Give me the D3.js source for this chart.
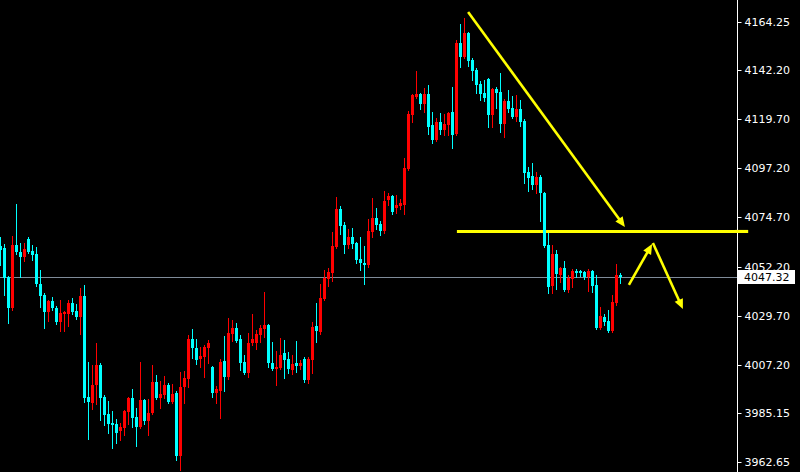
<!DOCTYPE html>
<html lang="en">
<head>
<meta charset="utf-8">
<title>Candles</title>
<script src="https://cdn.jsdelivr.net/npm/d3@7"></script>
<style>
  html, body { margin: 0; padding: 0; background: #000; }
  svg { display: block; }
  .axis text { font-family: "DejaVu Sans", sans-serif; font-size: 11px; fill: #fff; }
  .axis line { stroke: #fff; }
</style>
</head>
<body>
<script>
// bars: [open, high, low, close], oldest first
var ohlc = [
  [4061.6,4065.7,4052.9,4059.8],[4060.7,4062.5,4039.2,4047.0],[4047.4,4047.9,4026.3,4033.2],[4033.2,4066.2,4032.3,4062.1],
  [4062.1,4080.9,4058.0,4058.9],[4058.9,4063.0,4047.4,4056.6],[4056.6,4063.0,4054.7,4060.2],[4064.8,4065.7,4058.4,4058.9],
  [4059.3,4062.1,4055.2,4057.5],[4058.0,4061.2,4043.3,4044.2],[4044.2,4050.6,4033.7,4038.7],[4039.2,4040.1,4024.0,4031.4],
  [4031.4,4036.9,4027.3,4036.4],[4036.4,4038.2,4032.3,4033.2],[4033.2,4034.1,4025.9,4026.8],[4026.8,4036.9,4022.7,4030.9],
  [4030.5,4031.8,4022.7,4031.4],[4030.5,4036.9,4025.0,4035.5],[4035.5,4037.8,4030.5,4031.4],[4031.8,4035.0,4028.2,4029.1],
  [4029.1,4042.4,4021.3,4038.7],[4038.7,4043.8,3990.1,3992.0],[3992.4,4008.5,3973.2,3990.1],[3989.7,4007.1,3986.9,3997.9],
  [3997.9,4017.2,3989.2,4007.1],[4007.1,4008.0,3981.9,3992.0],[3992.4,3993.3,3979.6,3984.2],[3984.6,3990.6,3975.9,3980.1],
  [3980.5,3986.0,3969.1,3979.6],[3980.1,3982.3,3971.4,3975.9],[3976.9,3980.5,3972.7,3978.7],[3978.2,3986.5,3975.0,3986.0],
  [3985.6,3992.4,3980.1,3992.0],[3992.0,3996.1,3978.7,3982.8],[3983.3,3987.4,3970.0,3978.7],[3978.7,4008.5,3978.2,3991.1],
  [3991.1,3991.5,3980.1,3981.4],[3981.4,3991.5,3975.0,3985.1],[3985.1,4007.1,3984.6,3999.3],[3999.3,4002.5,3991.5,3992.0],
  [3992.0,3999.8,3987.4,3993.8],[3993.3,4002.1,3992.0,3997.9],[3997.9,3998.8,3989.7,3990.1],[3990.1,3998.4,3989.7,3993.8],
  [3994.3,3995.2,3963.6,3965.4],[3965.4,4003.9,3959.0,3997.0],[3997.0,4004.3,3989.7,4001.1],[4000.7,4020.8,3997.0,4019.0],
  [4019.0,4023.6,4010.3,4014.9],[4014.9,4019.0,4007.5,4009.4],[4009.8,4015.3,4006.2,4011.2],[4010.8,4016.3,4001.6,4015.3],
  [4014.9,4018.5,4008.0,4017.2],[4006.2,4006.6,3992.4,3994.3],[3994.3,3997.5,3989.7,3996.1],[3995.2,4009.8,3982.8,4008.5],
  [4008.9,4020.4,3995.2,4001.6],[4001.6,4028.6,4000.7,4021.8],[4021.3,4027.7,4018.1,4024.0],[4024.0,4026.3,4017.6,4018.1],
  [4019.0,4020.8,4004.8,4008.0],[4008.5,4011.7,4003.0,4003.4],[4003.4,4021.8,4001.6,4017.2],[4017.2,4030.5,4016.3,4019.0],
  [4017.2,4023.1,4014.4,4021.3],[4020.8,4025.4,4017.6,4024.0],[4023.6,4040.5,4019.9,4025.4],[4025.4,4025.9,4006.2,4008.0],
  [4008.0,4017.6,4004.8,4005.3],[4005.3,4013.5,3997.9,4006.2],[4005.7,4019.5,4005.3,4011.7],[4012.6,4018.5,4001.1,4009.4],
  [4009.8,4013.0,4003.4,4005.3],[4004.8,4011.7,4003.0,4007.5],[4008.0,4018.1,4003.9,4006.6],[4006.6,4009.4,4005.3,4008.0],
  [4009.8,4010.8,3999.3,4000.2],[4000.2,4010.8,3998.8,4009.8],[4009.4,4026.8,4003.4,4024.5],[4025.0,4035.5,4017.6,4022.7],
  [4022.2,4044.2,4021.3,4037.8],[4037.3,4050.6,4036.9,4047.0],[4046.5,4051.5,4043.3,4049.7],[4049.2,4068.0,4045.6,4061.6],
  [4061.2,4084.1,4060.7,4078.6],[4078.6,4079.9,4067.1,4070.8],[4071.2,4072.6,4058.4,4062.1],[4062.1,4069.4,4060.7,4065.7],
  [4065.7,4069.9,4060.7,4062.5],[4063.0,4063.4,4053.8,4055.2],[4055.7,4065.7,4050.6,4053.8],[4053.8,4061.6,4044.2,4052.9],
  [4052.9,4074.0,4052.0,4068.5],[4068.0,4083.6,4065.7,4074.4],[4074.4,4079.0,4069.4,4071.2],[4071.7,4073.1,4066.7,4068.5],
  [4068.5,4086.8,4067.6,4082.2],[4082.7,4085.9,4080.4,4084.5],[4084.5,4085.0,4076.3,4077.2],[4079.0,4085.0,4076.7,4080.4],
  [4079.9,4083.1,4078.6,4081.3],[4080.4,4101.9,4076.3,4097.4],[4096.9,4123.5,4096.4,4122.1],[4121.6,4131.3,4118.4,4130.8],
  [4129.9,4141.8,4129.4,4131.3],[4131.3,4131.7,4124.4,4126.7],[4126.7,4134.0,4123.0,4131.3],[4131.3,4135.4,4112.9,4116.1],
  [4117.1,4123.0,4108.8,4110.2],[4110.2,4120.3,4109.7,4118.4],[4118.4,4122.5,4112.9,4114.8],[4114.8,4122.1,4112.5,4117.5],
  [4117.1,4123.0,4112.5,4122.6],[4123.0,4134.5,4106.5,4112.5],[4113.0,4156.0,4112.5,4154.6],[4154.6,4163.3,4143.6,4148.2],
  [4148.2,4166.1,4147.8,4159.2],[4159.2,4159.7,4144.1,4146.4],[4146.8,4147.8,4137.7,4141.8],[4142.3,4143.2,4131.7,4135.4],
  [4135.8,4137.2,4128.5,4131.3],[4131.7,4137.7,4128.1,4129.4],[4138.1,4138.5,4116.1,4121.6],[4121.6,4134.0,4116.1,4133.6],
  [4133.6,4134.5,4124.8,4131.7],[4132.2,4140.9,4113.9,4117.5],[4117.5,4129.0,4111.6,4128.1],[4128.1,4133.1,4123.0,4124.4],
  [4124.8,4130.3,4120.3,4120.7],[4120.7,4130.8,4118.9,4124.4],[4124.4,4128.5,4116.6,4118.4],[4118.9,4119.8,4090.5,4095.1],
  [4095.5,4097.8,4086.8,4092.8],[4093.7,4099.6,4087.7,4089.6],[4089.6,4095.5,4085.9,4093.2],[4093.2,4094.2,4073.1,4085.9],
  [4085.9,4086.3,4061.2,4061.6],[4062.1,4067.6,4040.1,4042.8],[4043.3,4062.1,4040.1,4058.0],[4058.0,4059.8,4041.9,4048.8],
  [4048.3,4052.0,4045.1,4051.5],[4051.5,4054.7,4041.0,4041.5],[4041.5,4048.3,4040.5,4047.0],[4046.5,4051.1,4042.8,4050.2],
  [4050.2,4051.1,4047.4,4049.2],[4050.2,4050.6,4047.9,4049.2],[4049.7,4050.2,4046.5,4047.4],[4047.4,4051.1,4041.0,4050.2],
  [4050.2,4050.6,4040.5,4043.3],[4043.8,4048.3,4023.6,4024.0],[4024.0,4033.7,4023.6,4029.5],[4029.1,4030.5,4025.4,4026.8],
  [4027.3,4032.3,4022.2,4022.7],[4022.7,4039.2,4022.2,4036.0],[4035.5,4053.4,4034.6,4048.3],[4048.3,4049.2,4044.7,4047.32]
];

var priceTicks = [4164.25, 4142.20, 4119.70, 4097.20, 4074.70, 4052.20, 4029.70, 4007.20, 3985.15, 3962.65];
var lastPrice = 4047.32;

// drawn objects (bar index, price)
var levelPrice = 4068.3;
var levelSpan = [114.1, 186.9];
var arrows = [
  [[116.9, 4168.8], [156.1, 4070.3]],
  [[157.1, 4043.8], [162.9, 4062.5]],
  [[163.1, 4063.0], [170.6, 4032.7]]
];

var w = 800, h = 472;
var axisX = 737;

var svg = d3.select("body").append("svg")
  .attr("width", w)
  .attr("height", h);

svg.append("rect").attr("width", w).attr("height", h).attr("fill", "#000");

//4px per bar
var x = d3.scaleLinear().domain([0, 184]).range([0.5, 736.5]);
var y = d3.scaleLinear().domain([3962.65, 4164.25]).range([462, 22]);

//bid line
var yLast = Math.round(y(lastPrice)) + 0.5;
svg.append("line")
  .attr("x1", 0).attr("x2", axisX)
  .attr("y1", yLast).attr("y2", yLast)
  .attr("stroke", "#7f8b99")
  .attr("stroke-width", 1);

//yellow objects
var yellow = "#ffff00";
svg.append("line")
  .attr("x1", x(levelSpan[0])).attr("x2", x(levelSpan[1]))
  .attr("y1", y(levelPrice)).attr("y2", y(levelPrice))
  .attr("stroke", yellow)
  .attr("stroke-width", 3);

arrows.forEach(function(a) {
  var x1 = x(a[0][0]), y1 = y(a[0][1]);
  var x2 = x(a[1][0]), y2 = y(a[1][1]);
  var dx = x2 - x1, dy = y2 - y1, len = Math.sqrt(dx * dx + dy * dy);
  var ux = dx / len, uy = dy / len;
  var bx = x2 - ux * 10, by = y2 - uy * 10;
  svg.append("line")
    .attr("x1", x1).attr("y1", y1)
    .attr("x2", bx + ux * 2).attr("y2", by + uy * 2)
    .attr("stroke", yellow)
    .attr("stroke-width", 2.6);
  svg.append("path")
    .attr("d", "M" + x2 + "," + y2 +
      "L" + (bx - uy * 4.5) + "," + (by + ux * 4.5) +
      "L" + (bx + uy * 4.5) + "," + (by - ux * 4.5) + "Z")
    .attr("fill", yellow);
});

//candles
var bars = svg.append("g").attr("shape-rendering", "crispEdges");
var up = "#ff0000", down = "#00ffff";

bars.selectAll("line.wick")
  .data(ohlc)
  .enter()
  .append("line")
  .attr("class", "wick")
  .attr("x1", function(d, i) { return x(i); })
  .attr("x2", function(d, i) { return x(i); })
  .attr("y1", function(d) { return Math.round(y(d[1])); })
  .attr("y2", function(d) { return Math.round(y(d[2])) + 1; })
  .attr("stroke", function(d) { return d[3] >= d[0] ? up : down; })
  .attr("stroke-width", 1);

bars.selectAll("rect.body")
  .data(ohlc)
  .enter()
  .append("rect")
  .attr("class", "body")
  .attr("x", function(d, i) { return x(i) - 1.5; })
  .attr("width", 3)
  .attr("y", function(d) { return Math.round(y(Math.max(d[0], d[3]))); })
  .attr("height", function(d) {
    return Math.max(1, Math.round(Math.abs(y(d[0]) - y(d[3]))));
  })
  .attr("fill", function(d) { return d[3] >= d[0] ? up : down; });

//price scale
svg.append("line")
  .attr("x1", axisX + 0.5).attr("x2", axisX + 0.5)
  .attr("y1", 0).attr("y2", h)
  .attr("stroke", "#fff");

var yAxis = d3.axisRight(y)
  .tickValues(priceTicks)
  .tickSize(4)
  .tickPadding(3)
  .tickFormat(d3.format(".2f"));

var ax = svg.append("g")
  .attr("class", "axis")
  .attr("transform", "translate(" + (axisX + 0.5) + ",0)")
  .call(yAxis);
ax.select(".domain").remove();
ax.selectAll(".tick").attr("transform", function(d) {
  return "translate(0," + (Math.round(y(d)) + 0.5) + ")";
});

//level line runs over the scale
svg.append("line")
  .attr("x1", axisX - 2).attr("x2", x(levelSpan[1]))
  .attr("y1", y(levelPrice)).attr("y2", y(levelPrice))
  .attr("stroke", yellow)
  .attr("stroke-width", 3);

//last price tag
svg.append("rect")
  .attr("x", axisX + 1).attr("y", yLast - 7.5)
  .attr("width", 57).attr("height", 14)
  .attr("fill", "#fff");
svg.append("text")
  .attr("x", axisX + 7).attr("y", yLast)
  .attr("dy", "0.35em")
  .attr("font-family", "DejaVu Sans, sans-serif")
  .attr("font-size", "11px")
  .attr("fill", "#000")
  .text(d3.format(".2f")(lastPrice));
</script>
</body>
</html>
